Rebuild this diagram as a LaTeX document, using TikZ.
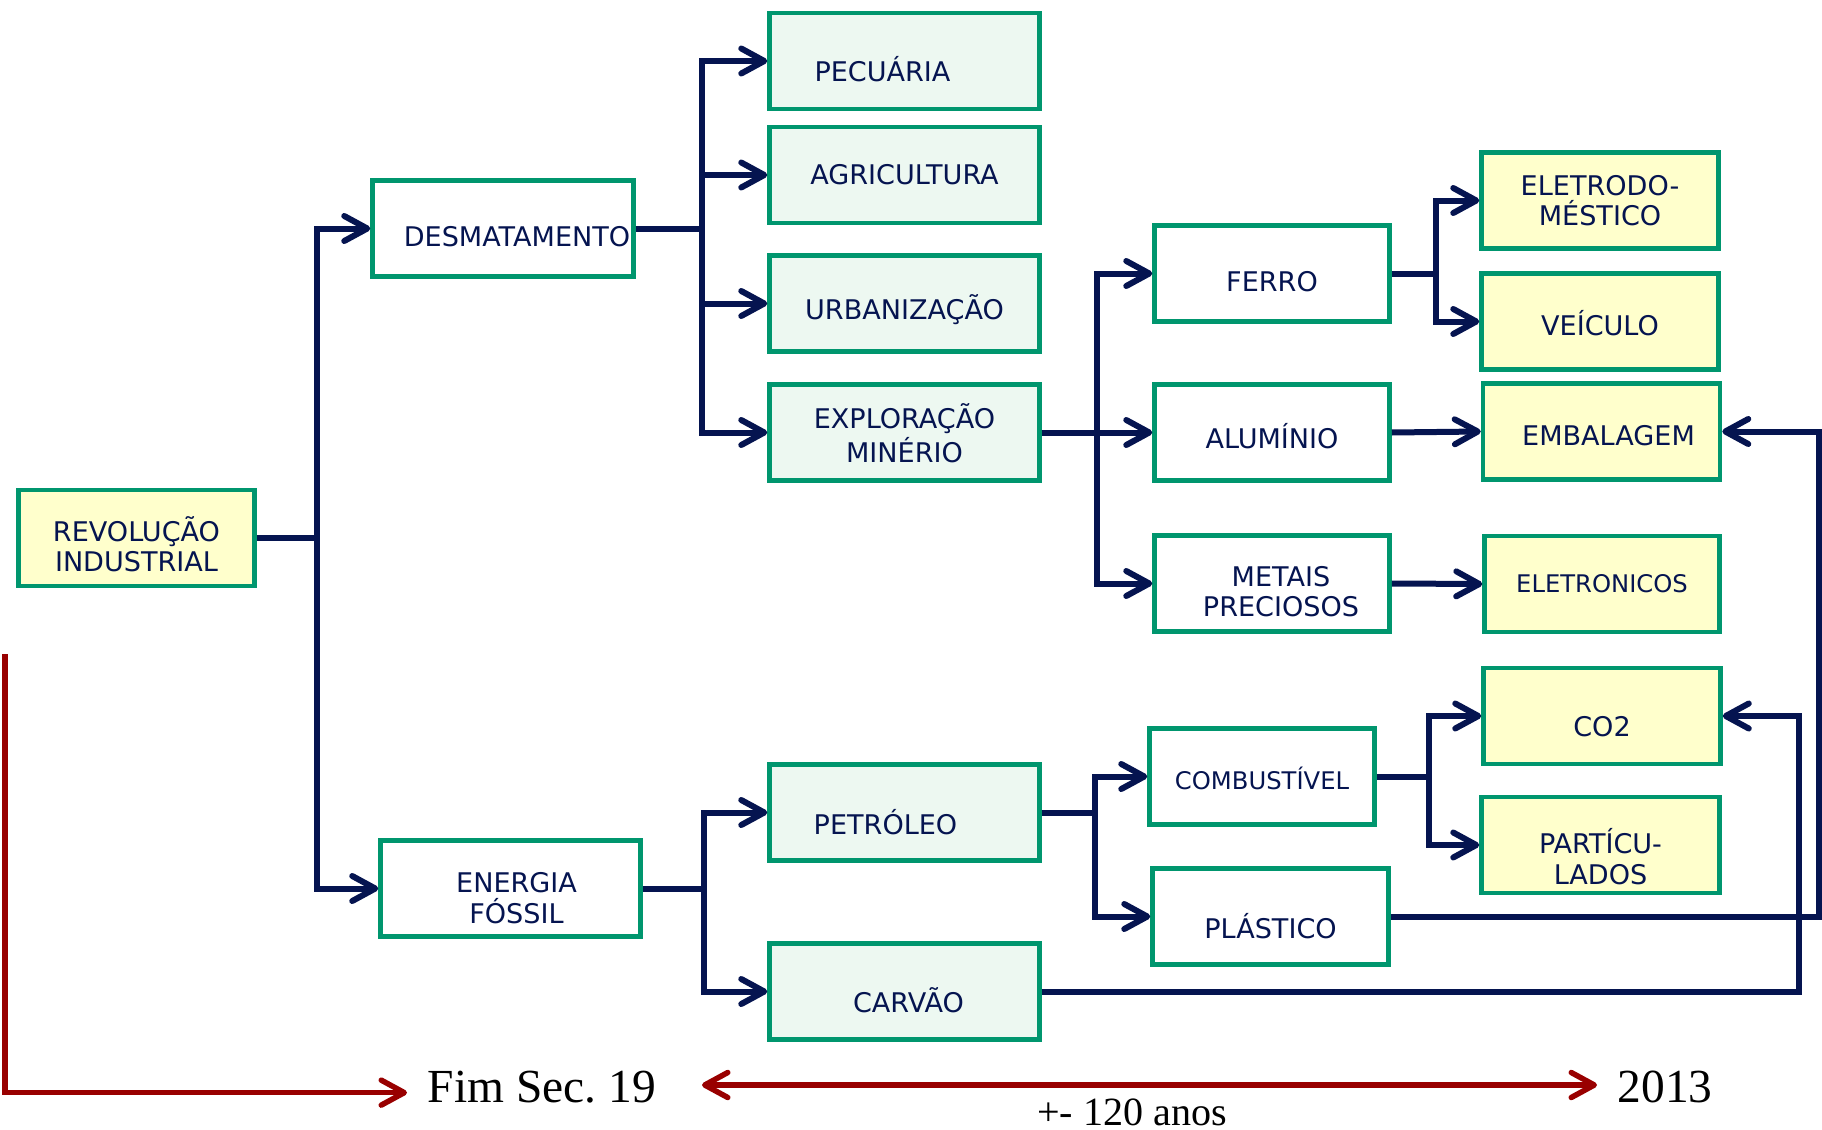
\documentclass[tikz,border=0pt]{standalone}
\usepackage{fontspec}
\setmainfont{Liberation Serif}
\newfontfamily\boxfont{DejaVu Sans}
\usetikzlibrary{arrows.meta}

\definecolor{navy}{RGB}{5,20,80}
\definecolor{boxgreen}{RGB}{0,150,110}
\definecolor{paleyellow}{RGB}{255,255,204}
\definecolor{palegreen}{RGB}{237,248,241}
\definecolor{darkred}{RGB}{153,0,0}

\begin{document}
\begin{tikzpicture}[
  box/.style={draw=boxgreen, line width=0.45mm, fill=white, text=navy, align=center,
    font=\boxfont\fontsize{7.7pt}{8.6pt}\selectfont, inner sep=0pt, minimum height=0.96cm},
  boxtext/.style={execute at begin node={\rule{0pt}{#1}}},
  yellowbox/.style={box, fill=paleyellow},
  greenbox/.style={box, fill=palegreen},
  smalltext/.style={font=\boxfont\fontsize{6.9pt}{8pt}\selectfont},
  link/.style={draw=navy, line width=0.6mm,
    -{Straight Barb[length=2.3mm,width=2.5mm,round]}},
  timeline/.style={draw=darkred, line width=0.55mm,
    -{Straight Barb[length=2.3mm,width=2.5mm,round]}},
  year/.style={font=\fontsize{13.5pt}{16pt}\selectfont, inner sep=0pt}
]
\useasboundingbox (0,0) rectangle (18.22,-11.29);

% left column
\node (rev)  [yellowbox, boxtext=19.4pt, minimum width=2.36cm] at (1.365,-5.38) {REVOLUÇÃO\\INDUSTRIAL};
\node (desm) [box, boxtext=10.2pt, minimum width=2.61cm] at (5.03,-2.285) {\hspace*{2.8mm}DESMATAMENTO};
\node (ener) [box, boxtext=19.8pt, minimum width=2.60cm] at (5.105,-8.885) {\hspace*{1.2mm}ENERGIA\\\hspace*{1.2mm}FÓSSIL};

% second column
\node (pec)  [greenbox, boxtext=11.8pt, minimum width=2.70cm] at (9.045,-0.61) {PECUÁRIA\hspace*{4.4mm}};
\node (agr)  [greenbox, minimum width=2.70cm] at (9.045,-1.75) {AGRICULTURA};
\node (urb)  [greenbox, boxtext=10.5pt, minimum width=2.70cm] at (9.045,-3.035) {URBANIZAÇÃO};
\node (expl) [greenbox, boxtext=17.1pt, minimum width=2.70cm] at (9.045,-4.325) {EXPLORAÇÃO\\MINÉRIO};
\node (petr) [greenbox, boxtext=12.5pt, minimum width=2.70cm] at (9.045,-8.125) {PETRÓLEO\hspace*{3.8mm}};
\node (carv) [greenbox, boxtext=11.8pt, minimum width=2.70cm] at (9.045,-9.915) {\hspace*{0.8mm}CARVÃO};

% third column
\node (ferro)  [box, boxtext=10.2pt, minimum width=2.35cm] at (12.72,-2.735) {FERRO};
\node (alum)   [box, boxtext=9.2pt, minimum width=2.35cm] at (12.72,-4.325) {ALUMÍNIO};
\node (metais) [box, boxtext=18.8pt, minimum width=2.35cm] at (12.72,-5.835) {\hspace*{1.8mm}METAIS\\\hspace*{1.8mm}PRECIOSOS};
\node (comb)   [box, smalltext, boxtext=7.7pt, minimum width=2.25cm] at (12.62,-7.765) {COMBUSTÍVEL};
\node (plast)  [box, boxtext=12.5pt, minimum width=2.36cm] at (12.705,-9.165) {PLÁSTICO};

% right column
\node (eletrod) [yellowbox, minimum width=2.37cm] at (16.00,-2.005) {ELETRODO-\\MÉSTICO};
\node (veic)    [yellowbox, boxtext=8.2pt, minimum width=2.37cm] at (16.00,-3.215) {VEÍCULO};
\node (emb)     [yellowbox, boxtext=8.2pt, minimum width=2.37cm] at (16.015,-4.315) {\hspace*{1.4mm}EMBALAGEM};
\node (eletron) [yellowbox, smalltext, minimum width=2.35cm] at (16.02,-5.84) {ELETRONICOS};
\node (co2)     [yellowbox, boxtext=11.6pt, minimum width=2.37cm] at (16.02,-7.16) {CO2};
\node (part)    [yellowbox, boxtext=22.4pt, minimum width=2.38cm] at (16.005,-8.45) {PARTÍCU-\\LADOS};

% branch points
\coordinate (bus1) at (3.17,-5.38);
\coordinate (bus2) at (7.02,-2.285);
\coordinate (bus3) at (10.97,-4.325);
\coordinate (bus4) at (14.36,-2.735);
\coordinate (bus5) at (7.04,-8.885);
\coordinate (bus6) at (10.95,-8.125);
\coordinate (bus7) at (14.29,-7.765);
\coordinate (plastturn) at (18.19,-9.165);
\coordinate (carvturn) at (17.99,-9.915);

\draw[link] (rev.east) -- (bus1) |- (desm.west);
\draw[link] (rev.east) -- (bus1) |- (ener.west);

\draw[link] (desm.east) -- (bus2) |- (pec.west);
\draw[link] (desm.east) -- (bus2) |- (agr.west);
\draw[link] (desm.east) -- (bus2) |- (urb.west);
\draw[link] (desm.east) -- (bus2) |- (expl.west);

\draw[link] (expl.east) -- (bus3) |- (ferro.west);
\draw[link] (expl.east) -- (alum.west);
\draw[link] (expl.east) -- (bus3) |- (metais.west);

\draw[link] (ferro.east) -- (bus4) |- (eletrod.west);
\draw[link] (ferro.east) -- (bus4) |- (veic.west);
\draw[link] (alum.east) -- (emb.west);
\draw[link] (metais.east) -- (eletron.west);

\draw[link] (ener.east) -- (bus5) |- (petr.west);
\draw[link] (ener.east) -- (bus5) |- (carv.west);

\draw[link] (petr.east) -- (bus6) |- (comb.west);
\draw[link] (petr.east) -- (bus6) |- (plast.west);

\draw[link] (comb.east) -- (bus7) |- (co2.west);
\draw[link] (comb.east) -- (bus7) |- (part.west);

\draw[link] (plast.east) -- (plastturn) |- (emb.east);
\draw[link] (carv.east) -- (carvturn) |- (co2.east);

% time line
\coordinate (tltop) at (0.05,-6.54);
\coordinate (spanstart) at (7.02,-10.85);
\node (fim) [year, anchor=base west] at (4.27,-11.02) {Fim Sec.\ 19};
\node (yr)  [year, anchor=base west] at (16.17,-11.02) {2013};
\node (span) [font=\fontsize{11.4pt}{13pt}\selectfont, inner sep=0pt, anchor=base] at (11.32,-11.25) {+- 120 anos};

\draw[timeline] (tltop) |- ([xshift=-2mm,yshift=-0.6mm]fim.west);
\draw[timeline, {Straight Barb[length=2.3mm,width=2.5mm,round]}-{Straight Barb[length=2.3mm,width=2.5mm,round]}]
  (spanstart) -- ([xshift=-2mm]yr.west |- spanstart);

\end{tikzpicture}
\end{document}
